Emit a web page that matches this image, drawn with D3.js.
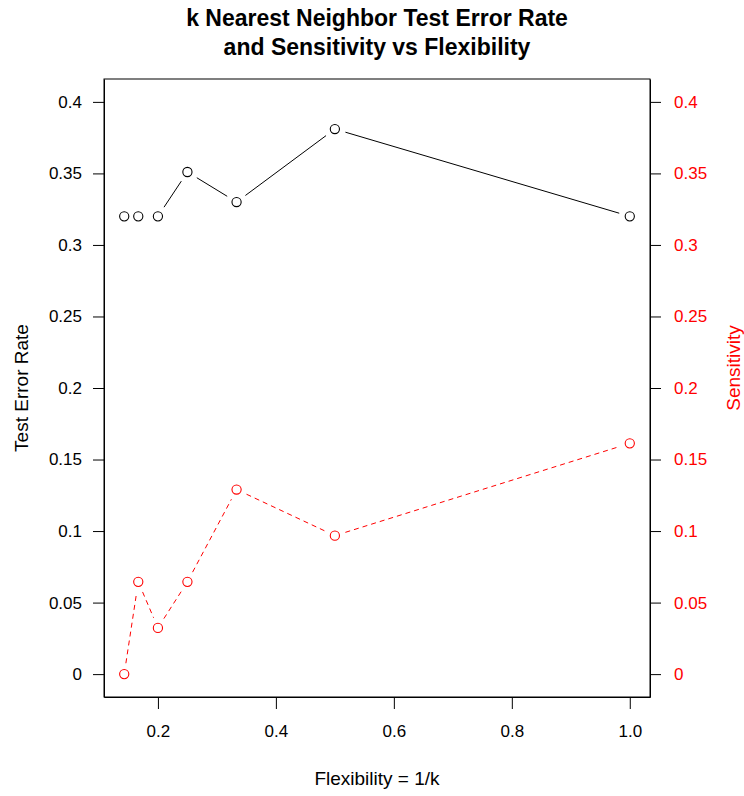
<!DOCTYPE html>
<html>
<head>
<meta charset="utf-8">
<script src="https://cdn.jsdelivr.net/npm/d3@7"></script>
<style>
    body { margin: 0; background: #fff; }
    svg { display: block; font-family: "Liberation Sans", Arial, sans-serif; }
</style>
</head>
<body>
<svg id="chart"></svg>
<script>
// flexibility = 1/k for k = 7..1
const flexibility = [1 / 7, 1 / 6, 1 / 5, 1 / 4, 1 / 3, 1 / 2, 1];
const testError = [0.32, 0.32, 0.32, 0.351, 0.33, 0.381, 0.32];
const sensitivity = [0, 0.0645, 0.0323, 0.0645, 0.129, 0.0968, 0.1613];
const xTicks = [0.2, 0.4, 0.6, 0.8, 1.0];
const yTicks = [0, 0.05, 0.1, 0.15, 0.2, 0.25, 0.3, 0.35, 0.4];
const titleLines = ["k Nearest Neighbor Test Error Rate", "and Sensitivity vs Flexibility"];

const width = 744, height = 796;
const box = { left: 104, right: 650, top: 79, bottom: 697 };

const svg = d3.select("#chart")
    .attr("width", width)
    .attr("height", height);

// R style 4% padding on the x range
const xExt = d3.extent(flexibility);
const xPad = (xExt[1] - xExt[0]) * 0.04;
const xscale = d3.scaleLinear()
    .domain([xExt[0] - xPad, xExt[1] + xPad])
    .range([box.left, box.right]);

const yscale = d3.scaleLinear()
    .domain([-0.016, 0.416])
    .range([box.bottom, box.top]);

// plot box
svg.append("rect")
    .attr("x", box.left)
    .attr("y", box.top)
    .attr("width", box.right - box.left)
    .attr("height", box.bottom - box.top)
    .attr("fill", "none")
    .attr("stroke", "black")
    .attr("stroke-width", 1);

const fmtY = d => String(+d.toFixed(2));

const leftAxis = svg.append("g")
    .attr("transform", `translate(${box.left},0)`)
    .call(d3.axisLeft(yscale).tickValues(yTicks).tickFormat(fmtY).tickSize(11).tickSizeOuter(0).tickPadding(11));

const rightAxis = svg.append("g")
    .attr("transform", `translate(${box.right},0)`)
    .call(d3.axisRight(yscale).tickValues(yTicks).tickFormat(fmtY).tickSize(11).tickSizeOuter(0).tickPadding(13));

const bottomAxis = svg.append("g")
    .attr("transform", `translate(0,${box.bottom})`)
    .call(d3.axisBottom(xscale).tickValues(xTicks).tickFormat(d3.format(".1f")).tickSize(12).tickSizeOuter(0).tickPadding(16));

[leftAxis, rightAxis, bottomAxis].forEach(g => {
    g.select(".domain").attr("stroke", "black");
    g.selectAll(".tick line").attr("stroke", "black");
    g.selectAll("text")
        .attr("font-family", "Liberation Sans, Arial, sans-serif")
        .attr("font-size", 17)
        .attr("fill", "black");
});
rightAxis.selectAll("text").attr("fill", "red");

// type = "b": segments with a gap round each point
function drawSeries(values, color, dash) {
    const pts = flexibility.map((f, i) => [xscale(f), yscale(values[i])]);
    const gap = 11;
    const segs = [];
    for (let i = 0; i < pts.length - 1; i++) {
        const [x1, y1] = pts[i], [x2, y2] = pts[i + 1];
        const len = Math.hypot(x2 - x1, y2 - y1);
        if (len <= 2 * gap) continue;
        const ux = (x2 - x1) / len, uy = (y2 - y1) / len;
        segs.push([x1 + ux * gap, y1 + uy * gap, x2 - ux * gap, y2 - uy * gap]);
    }
    const g = svg.append("g");
    g.selectAll("line")
        .data(segs)
        .enter().append("line")
        .attr("x1", d => d[0]).attr("y1", d => d[1])
        .attr("x2", d => d[2]).attr("y2", d => d[3])
        .attr("stroke", color)
        .attr("stroke-width", 1)
        .attr("stroke-dasharray", dash);
    g.selectAll("circle")
        .data(pts)
        .enter().append("circle")
        .attr("cx", d => d[0])
        .attr("cy", d => d[1])
        .attr("r", 4.6)
        .attr("fill", "none")
        .attr("stroke", color)
        .attr("stroke-width", 1.1);
}

drawSeries(testError, "black", null);
drawSeries(sensitivity, "red", "5,4");

// title
svg.selectAll(".title")
    .data(titleLines)
    .enter().append("text")
    .attr("class", "title")
    .attr("x", (box.left + box.right) / 2)
    .attr("y", (d, i) => 26 + i * 29)
    .attr("text-anchor", "middle")
    .attr("font-size", 23)
    .attr("font-weight", "bold")
    .text(d => d);

// axis titles
svg.append("text")
    .attr("x", (box.left + box.right) / 2)
    .attr("y", 785)
    .attr("text-anchor", "middle")
    .attr("font-size", 19)
    .text("Flexibility = 1/k");

svg.append("text")
    .attr("transform", `translate(28,${(box.top + box.bottom) / 2}) rotate(-90)`)
    .attr("text-anchor", "middle")
    .attr("font-size", 19)
    .text("Test Error Rate");

svg.append("text")
    .attr("transform", `translate(740,368) rotate(-90)`)
    .attr("text-anchor", "middle")
    .attr("font-size", 19)
    .attr("fill", "red")
    .text("Sensitivity");
</script>
</body>
</html>
